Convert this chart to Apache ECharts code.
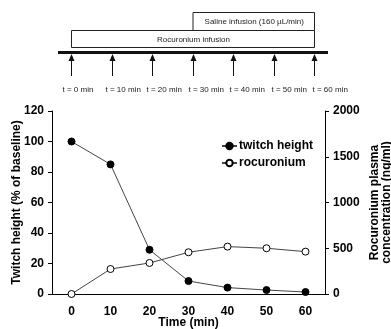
<!DOCTYPE html>
<html><head><meta charset="utf-8">
<script src="https://cdn.jsdelivr.net/npm/echarts@6/dist/echarts.min.js"></script>
<style>html,body{margin:0;padding:0;background:#fff}#c{width:391px;height:329px}</style>
</head><body><div id="c"></div>
<script>
const times = ['0', '10', '20', '30', '40', '50', '60'];
const twitch = [100, 85, 29, 8.5, 4.2, 2.6, 1.3];
const rocuronium = [0, 273, 339, 456, 518, 500, 463];
const arrowTimes = [0, 10, 20, 30, 40, 50, 60];
const arrowLabels = ['t = 0 min', 't = 10 min', 't = 20 min', 't = 30 min', 't = 40 min', 't = 50 min', 't = 60 min'];
const infusionNames = ['Rocuronium infusion', 'Saline infusion (160 \u00b5L/min)'];
const infusionStart = [0, 30];
const infusionEnd = [60, 60];

const FONT = 'Liberation Sans, Arial, sans-serif';
const chart = echarts.init(document.getElementById('c'), null, {renderer: 'canvas'});

// diagram row positions (style constants)
const boxRows = [{top: 30, bottom: 47}, {top: 12, bottom: 30}];

chart.setOption({
  animation: false,
  backgroundColor: '#fff',
  textStyle: {fontFamily: FONT},
  grid: [
    {left: 52, right: 66, top: 111, bottom: 35, outerBoundsMode: 'none', containLabel: false},
    {left: 71, right: 77, top: 0, height: 100, outerBoundsMode: 'none', containLabel: false}
  ],
  legend: {
    orient: 'vertical', left: 216, top: 135,
    itemWidth: 15, itemHeight: 8, itemGap: 5,
    textStyle: {fontFamily: FONT, fontWeight: 'bold', fontSize: 12, color: '#000', padding: [0, 0, 0, -3]},
    data: ['twitch height', 'rocuronium']
  },
  xAxis: [
    {
      gridIndex: 0, type: 'category', data: times, boundaryGap: true,
      axisLine: {lineStyle: {color: '#000', width: 1}},
      axisTick: {length: 4, lineStyle: {color: '#000'}},
      axisLabel: {color: '#000', fontWeight: 'bold', fontSize: 12, margin: 12, fontFamily: FONT},
      name: 'Time (min)', nameLocation: 'middle', nameGap: 23, nameMoveOverlap: false,
      nameTextStyle: {color: '#000', fontWeight: 'bold', fontSize: 12, fontFamily: FONT}
    },
    {gridIndex: 1, type: 'value', min: 0, max: 60, show: false}
  ],
  yAxis: [
    {
      gridIndex: 0, type: 'value', min: 0, max: 120, interval: 20, position: 'left',
      splitLine: {show: false},
      axisLine: {show: true, lineStyle: {color: '#000'}},
      axisTick: {show: true, length: 4, lineStyle: {color: '#000'}},
      axisLabel: {color: '#000', fontWeight: 'bold', fontSize: 12, margin: 8, fontFamily: FONT},
      name: 'Twitch height (% of baseline)', nameLocation: 'middle', nameGap: 29, nameRotate: 90, nameMoveOverlap: false,
      nameTextStyle: {color: '#000', fontWeight: 'bold', fontSize: 12, fontFamily: FONT}
    },
    {
      gridIndex: 0, type: 'value', min: 0, max: 2000, interval: 500, position: 'right',
      splitLine: {show: false},
      axisLine: {show: true, lineStyle: {color: '#000'}},
      axisTick: {show: true, length: 4, lineStyle: {color: '#000'}},
      axisLabel: {color: '#000', fontWeight: 'bold', fontSize: 12, margin: 8, fontFamily: FONT,
                  formatter: function (v) { return String(v); }},
      name: 'Rocuronium plasma\nconcentration (ng/ml)', nameLocation: 'middle', nameGap: 44, nameRotate: 90, nameMoveOverlap: false,
      nameTextStyle: {color: '#000', fontWeight: 'bold', fontSize: 12, lineHeight: 12, fontFamily: FONT}
    },
    {gridIndex: 1, type: 'value', min: 0, max: 100, show: false}
  ],
  series: [
    {
      name: 'twitch height', type: 'line', xAxisIndex: 0, yAxisIndex: 0, data: twitch,
      symbol: 'circle', symbolSize: 7,
      lineStyle: {color: '#444', width: 1},
      itemStyle: {color: '#000', borderColor: '#000', borderWidth: 1}
    },
    {
      name: 'rocuronium', type: 'line', xAxisIndex: 0, yAxisIndex: 1, data: rocuronium,
      symbol: 'circle', symbolSize: 7,
      lineStyle: {color: '#444', width: 1},
      itemStyle: {color: '#fff', borderColor: '#000', borderWidth: 1}
    },
    {
      type: 'custom', xAxisIndex: 1, yAxisIndex: 2, silent: true,
      data: infusionNames.map((n, i) => [infusionStart[i], infusionEnd[i], i]),
      renderItem: function (params, api) {
        const i = api.value(2);
        const x0 = api.coord([api.value(0), 0])[0];
        const x1 = api.coord([api.value(1), 0])[0];
        const r = boxRows[i];
        return {
          type: 'group', children: [
            {type: 'rect', shape: {x: x0 + 0.5, y: r.top + 0.5, width: x1 - x0, height: r.bottom - r.top},
             style: {fill: '#fff', stroke: '#222', lineWidth: 1}},
            {type: 'text', style: {text: infusionNames[i], x: (x0 + x1) / 2 + 1, y: (r.top + r.bottom) / 2 + 1,
             align: 'center', verticalAlign: 'middle', fill: '#222', font: '8px ' + FONT}}
          ]
        };
      }
    },
    {
      type: 'custom', xAxisIndex: 1, yAxisIndex: 2, silent: true,
      data: [[arrowTimes[0], arrowTimes[arrowTimes.length - 1]]],
      renderItem: function (params, api) {
        const x0 = api.coord([api.value(0), 0])[0];
        const x1 = api.coord([api.value(1), 0])[0];
        return {type: 'rect', shape: {x: x0 - 13, y: 51, width: x1 - x0 + 27, height: 3}, style: {fill: '#111'}};
      }
    },
    {
      type: 'custom', xAxisIndex: 1, yAxisIndex: 2, silent: true,
      data: arrowTimes.map((t, i) => [t, i]),
      renderItem: function (params, api) {
        const x = Math.round(api.coord([api.value(0), 0])[0]) + 0.5;
        const i = api.value(1);
        return {
          type: 'group', children: [
            {type: 'line', shape: {x1: x, y1: 76, x2: x, y2: 59}, style: {stroke: '#111', lineWidth: 1}},
            {type: 'polygon', shape: {points: [[x - 3, 61], [x + 3, 61], [x, 54]]}, style: {fill: '#111'}},
            {type: 'text', style: {text: arrowLabels[i], x: x - 8 - (i === 0 ? 1 : 0) + i * 1, y: 90, align: 'left', verticalAlign: 'middle',
             fill: '#222', font: '8px ' + FONT}}
          ]
        };
      }
    }
  ]
});
</script></body></html>
